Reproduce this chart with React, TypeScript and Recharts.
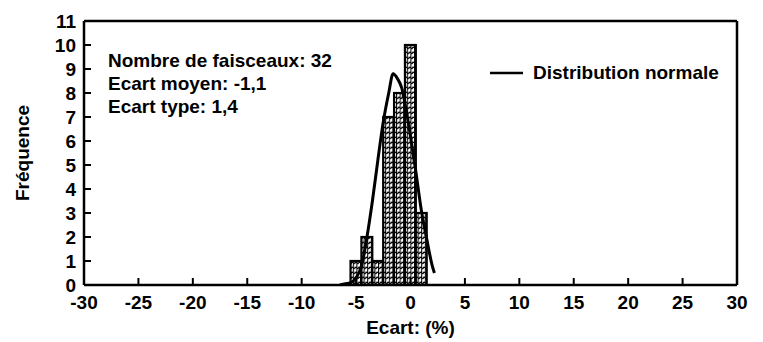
import React from 'react';
import { ComposedChart, Bar, Line, XAxis, YAxis, Legend, Customized } from 'recharts';

// histogram bins (centre of each 1% bin) and counts
const binCenters = [-5, -4, -3, -2, -1, 0, 1];
const binCounts = [1, 2, 1, 7, 8, 10, 3];

// normal curve
const curveX = [-6.5, -6, -5.5, -5, -4.5, -4, -3.5, -3, -2.5, -2, -1.6, -1.2, -0.8, -0.4, 0, 0.5, 1, 1.5, 2, 2.2];
const curveY = [0, 0.05, 0.1, 0.3, 0.8, 2.0, 3.5, 5.2, 6.8, 8.0, 8.8, 8.6, 8.2, 7.3, 6.2, 4.7, 3.1, 1.9, 0.8, 0.5];

const xTicks = [-30, -25, -20, -15, -10, -5, 0, 5, 10, 15, 20, 25, 30];
const yTicks = [0, 1, 2, 3, 4, 5, 6, 7, 8, 9, 10, 11];

const statLines = ['Nombre de faisceaux: 32', 'Ecart moyen: -1,1', 'Ecart type: 1,4'];
const legendLabel = 'Distribution normale';
const xTitle = 'Ecart: (%)';
const yTitle = 'Fréquence';

const W = 763;
const H = 342;
const FONT = '"Liberation Sans", Arial, sans-serif';
const PLOT_W = 653;
const BIN_PX = (PLOT_W / 60) * 1;

const bins = binCenters.map((x, i) => ({ x, count: binCounts[i] }));
const curve = curveX.map((x, i) => ({ x, y: curveY[i] }));

const tickStyle = { fill: '#000', fontSize: 19, fontWeight: 700, fontFamily: FONT };

const YTitle = (props: any) => {
  const vb = props.viewBox || { x: 0, y: 0, width: 0, height: 0 };
  const cx = vb.x + 22;
  const cy = vb.y + vb.height / 2;
  return (
    <text
      x={cx}
      y={cy}
      transform={`rotate(-90 ${cx} ${cy})`}
      textAnchor="middle"
      dominantBaseline="central"
      style={{ fontSize: 19, fontWeight: 700, fontFamily: FONT, fill: '#000' }}
    >
      {yTitle}
    </text>
  );
};

// bars are drawn a full bin wide around the centre the library gives
const BinBar = (props: any) => {
  const { x, y, width, height } = props;
  if (!height || height <= 0) return null;
  const cx = x + width / 2;
  return (
    <rect
      x={cx - BIN_PX / 2}
      y={y}
      width={BIN_PX}
      height={height}
      fill="url(#weave)"
      stroke="#000"
      strokeWidth={2.2}
    />
  );
};

const LegendBox = () => (
  <svg width={240} height={30} style={{ display: 'block' }}>
    <line x1={2} y1={15} x2={35} y2={15} stroke="#000" strokeWidth={2.5} />
    <text x={45} y={21} style={{ fontSize: 19, fontWeight: 700, fontFamily: FONT, fill: '#000' }}>
      {legendLabel}
    </text>
  </svg>
);

const Notes = () => (
  <g>
    <defs>
      <pattern id="weave" patternUnits="userSpaceOnUse" width={3.6} height={5}>
        <rect width={3.6} height={5} fill="#fff" />
        <line x1={0.5} y1={0} x2={0.5} y2={5} stroke="#000" strokeWidth={1.1} />
        <path d="M1.2 4 L3.2 1.6" stroke="#000" strokeWidth={1.3} fill="none" />
      </pattern>
    </defs>
    {statLines.map((s, i) => (
      <text
        key={s}
        x={108}
        y={67 + i * 23}
        style={{ fontSize: 19, fontWeight: 700, fontFamily: FONT, fill: '#000' }}
      >
        {s}
      </text>
    ))}
  </g>
);

export default function App() {
  return (
    <div style={{ position: 'absolute', left: 0, top: 0, width: W, height: H, background: '#fff' }}>
      <ComposedChart width={W} height={H} data={bins} margin={{ top: 20, right: 25, left: 0, bottom: 0 }}>
        <Customized component={Notes} />
        <XAxis
          dataKey="x"
          type="number"
          domain={[-30, 30]}
          ticks={xTicks}
          allowDataOverflow
          height={57}
          axisLine={{ stroke: '#000', strokeWidth: 2.5 }}
          tickLine={{ stroke: '#000', strokeWidth: 2 }}
          tickSize={-7}
          tickMargin={18}
          tick={tickStyle}
          interval={0}
          label={{ value: xTitle, position: 'insideBottom', offset: 8, style: { ...tickStyle, fontSize: 19 } }}
        />
        <XAxis
          xAxisId="top"
          orientation="top"
          type="number"
          domain={[-30, 30]}
          ticks={xTicks}
          allowDataOverflow
          height={1}
          axisLine={{ stroke: '#000', strokeWidth: 2.5 }}
          tickLine={{ stroke: '#000', strokeWidth: 2 }}
          tickSize={-7}
          tick={false}
          interval={0}
        />
        <YAxis
          type="number"
          domain={[0, 11]}
          ticks={yTicks}
          allowDataOverflow
          width={84}
          axisLine={{ stroke: '#000', strokeWidth: 2.5 }}
          tickLine={{ stroke: '#000', strokeWidth: 2 }}
          tickSize={-7}
          tickMargin={15}
          tick={tickStyle}
          interval={0}
          label={<YTitle />}
        />
        <YAxis
          yAxisId="right"
          orientation="right"
          type="number"
          domain={[0, 11]}
          ticks={yTicks}
          allowDataOverflow
          width={1}
          axisLine={{ stroke: '#000', strokeWidth: 2.5 }}
          tickLine={{ stroke: '#000', strokeWidth: 2 }}
          tickSize={-7}
          tick={false}
          interval={0}
        />
        <Legend
          layout="vertical"
          align="center"
          verticalAlign="middle"
          content={<LegendBox />}
          wrapperStyle={{ position: 'absolute', left: 488, top: 58, width: 240 }}
        />
        <Bar
          dataKey="count"
          barSize={4}
          shape={<BinBar />}
          isAnimationActive={false}
        />
        <Line
          data={curve}
          dataKey="y"
          type="monotone"
          stroke="#000"
          strokeWidth={3}
          dot={false}
          activeDot={false}
          isAnimationActive={false}
        />
      </ComposedChart>
    </div>
  );
}
